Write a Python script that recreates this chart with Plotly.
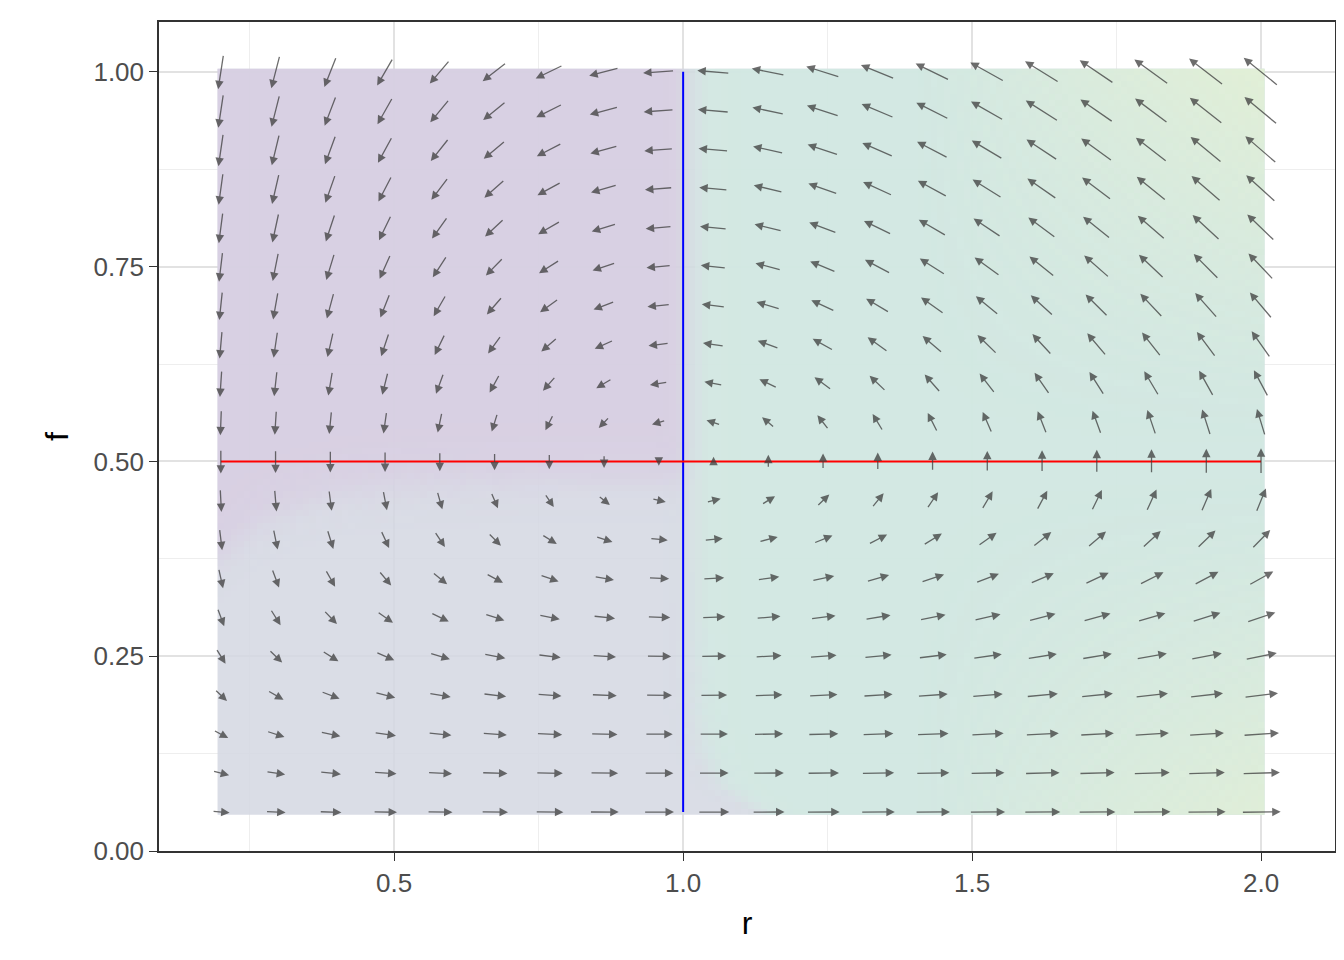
import numpy as np
import plotly.graph_objects as go

# grid of arrow positions
r_vals = list(np.round(np.linspace(0.2, 2.0, 20), 4))
f_vals = [0.05, 0.10, 0.15, 0.20, 0.25, 0.30, 0.35, 0.40, 0.45, 0.50,
          0.55, 0.60, 0.65, 0.70, 0.75, 0.80, 0.85, 0.90, 0.95, 1.00]
x_ticks = [0.5, 1.0, 1.5, 2.0]
x_tick_text = ["0.5", "1.0", "1.5", "2.0"]
y_ticks = [0.0, 0.25, 0.5, 0.75, 1.0]
y_tick_text = ["0.00", "0.25", "0.50", "0.75", "1.00"]

# model of the field (read from arrow directions)
def field(r, f):
    return r * (0.5 - f), 0.6 * f ** 1.5 * (r - 1)

XR = [0.093, 2.128]
YR = [0.0, 1.064]
PXX, PXY = 572.0, 768.0

fig = go.Figure()

# background regions
gx = np.linspace(0.2, 2.0, 160)
gy = np.linspace(0.05, 1.0, 120)
GX, GY = np.meshgrid(gx, gy)
sig = lambda t: 1 / (1 + np.exp(-t))
b = 0.475 - 0.1 * np.exp(-(GX - 0.2) / 0.12)
purple = sig((GY - b) / 0.012) * sig((1.0 - GX) / 0.006)
c = 1.0 + 0.12 * np.exp(-(GY - 0.05) / 0.04) + 0.02
green = sig((GX - c) / 0.012) * np.where(GY > 0.48, sig((GX - 1.0) / 0.006), 1)
yellow = green * np.clip(((GX - 1.4) / 0.6), 0, 1) * np.clip(np.abs(GY - 0.5) / 0.5, 0, 1) ** 1.5
base = np.ones_like(GX)

for z, col in [(base, "212,216,226"), (purple, "216,206,226"),
               (green, "210,234,226"), (yellow, "228,240,212")]:
    fig.add_trace(go.Heatmap(x=gx, y=gy, z=z, zmin=0, zmax=1, showscale=False,
                             hoverinfo="skip", opacity=0.85,
                             colorscale=[[0, f"rgba({col},0)"], [1, f"rgba({col},1)"]]))

# lines
fig.add_trace(go.Scatter(x=[1, 1], y=[0.05, 1.0], mode="lines",
                         line=dict(color="blue", width=2), showlegend=False))
fig.add_trace(go.Scatter(x=[0.2, 2.0], y=[0.5, 0.5], mode="lines",
                         line=dict(color="red", width=2), showlegend=False))

# arrows
vecs = []
for r in r_vals:
    for f in f_vals:
        dr, df = field(r, f)
        vecs.append((r, f, dr * PXX, df * PXY))
mmax = max(np.hypot(v[2], v[3]) for v in vecs)
ann = []
for r, f, px, py in vecs:
    m = np.hypot(px, py)
    if m == 0:
        continue
    L = 44 * (m / mmax) ** 0.35
    ux, uy = px / m * L, py / m * L
    x0 = r - ux / 2 / PXX; y0 = f - uy / 2 / PXY
    x1 = r + ux / 2 / PXX; y1 = f + uy / 2 / PXY
    ann.append(dict(x=x1, y=y1, ax=x0, ay=y0, xref="x", yref="y", axref="x", ayref="y",
                    showarrow=True, arrowhead=2, arrowsize=1.3, arrowwidth=1.3,
                    arrowcolor="rgba(60,60,60,0.75)", text=""))

fig.update_layout(
    width=1344, height=960, plot_bgcolor="white", paper_bgcolor="white",
    margin=dict(l=151, r=17, t=14, b=117), showlegend=False, annotations=ann,
    font=dict(family="Liberation Sans, Arial", size=26, color="#333"),
)
common = dict(ticks="outside", ticklen=8, tickcolor="#333", showgrid=True,
              gridcolor="#e2e2e2", gridwidth=2, showline=True, mirror=True,
              linecolor="#333", linewidth=1.5, zeroline=False,
              tickfont=dict(size=26, color="#4d4d4d"))
fig.update_xaxes(range=XR, tickvals=x_ticks, ticktext=x_tick_text,
                 minor=dict(tickvals=[0.25, 0.75, 1.25, 1.75], showgrid=True, gridcolor="#eeeeee", gridwidth=1),
                 title=dict(text="r", font=dict(size=32, color="black")), **common)
fig.update_yaxes(range=YR, tickvals=y_ticks, ticktext=y_tick_text,
                 minor=dict(tickvals=[0.125, 0.375, 0.625, 0.875], showgrid=True, gridcolor="#eeeeee", gridwidth=1),
                 title=dict(text="f", font=dict(size=32, color="black")), **common)
fig.write_html("out.html")
